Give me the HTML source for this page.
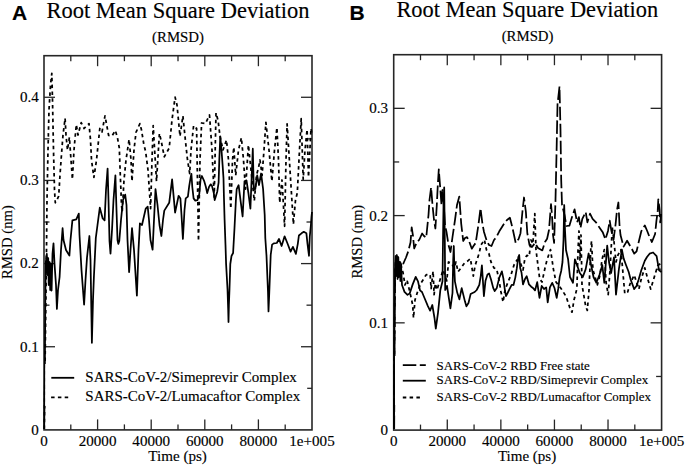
<!DOCTYPE html>
<html><head><meta charset="utf-8"><style>
html,body{margin:0;padding:0;background:#fff;}
svg{display:block;}
text{font-family:"Liberation Serif",serif;fill:#000;stroke:#000;stroke-width:0.15px;}
text.lab{font-family:"Liberation Sans",sans-serif;font-weight:bold;}
</style></head><body>
<svg width="685" height="467" viewBox="0 0 685 467">
<rect x="44.00" y="55.70" width="268.00" height="374.20" fill="none" stroke="#262626" stroke-width="1.6"/>
<line x1="70.80" y1="429.90" x2="70.80" y2="424.40" stroke="#262626" stroke-width="1.3"/>
<line x1="70.80" y1="55.70" x2="70.80" y2="61.20" stroke="#262626" stroke-width="1.3"/>
<line x1="97.60" y1="429.90" x2="97.60" y2="419.40" stroke="#262626" stroke-width="1.3"/>
<line x1="97.60" y1="55.70" x2="97.60" y2="66.20" stroke="#262626" stroke-width="1.3"/>
<line x1="124.40" y1="429.90" x2="124.40" y2="424.40" stroke="#262626" stroke-width="1.3"/>
<line x1="124.40" y1="55.70" x2="124.40" y2="61.20" stroke="#262626" stroke-width="1.3"/>
<line x1="151.20" y1="429.90" x2="151.20" y2="419.40" stroke="#262626" stroke-width="1.3"/>
<line x1="151.20" y1="55.70" x2="151.20" y2="66.20" stroke="#262626" stroke-width="1.3"/>
<line x1="178.00" y1="429.90" x2="178.00" y2="424.40" stroke="#262626" stroke-width="1.3"/>
<line x1="178.00" y1="55.70" x2="178.00" y2="61.20" stroke="#262626" stroke-width="1.3"/>
<line x1="204.80" y1="429.90" x2="204.80" y2="419.40" stroke="#262626" stroke-width="1.3"/>
<line x1="204.80" y1="55.70" x2="204.80" y2="66.20" stroke="#262626" stroke-width="1.3"/>
<line x1="231.60" y1="429.90" x2="231.60" y2="424.40" stroke="#262626" stroke-width="1.3"/>
<line x1="231.60" y1="55.70" x2="231.60" y2="61.20" stroke="#262626" stroke-width="1.3"/>
<line x1="258.40" y1="429.90" x2="258.40" y2="419.40" stroke="#262626" stroke-width="1.3"/>
<line x1="258.40" y1="55.70" x2="258.40" y2="66.20" stroke="#262626" stroke-width="1.3"/>
<line x1="285.20" y1="429.90" x2="285.20" y2="424.40" stroke="#262626" stroke-width="1.3"/>
<line x1="285.20" y1="55.70" x2="285.20" y2="61.20" stroke="#262626" stroke-width="1.3"/>
<line x1="44.00" y1="388.32" x2="49.50" y2="388.32" stroke="#262626" stroke-width="1.3"/>
<line x1="312.00" y1="388.32" x2="306.50" y2="388.32" stroke="#262626" stroke-width="1.3"/>
<line x1="44.00" y1="346.74" x2="55.00" y2="346.74" stroke="#262626" stroke-width="1.3"/>
<line x1="312.00" y1="346.74" x2="301.00" y2="346.74" stroke="#262626" stroke-width="1.3"/>
<line x1="44.00" y1="305.17" x2="49.50" y2="305.17" stroke="#262626" stroke-width="1.3"/>
<line x1="312.00" y1="305.17" x2="306.50" y2="305.17" stroke="#262626" stroke-width="1.3"/>
<line x1="44.00" y1="263.59" x2="55.00" y2="263.59" stroke="#262626" stroke-width="1.3"/>
<line x1="312.00" y1="263.59" x2="301.00" y2="263.59" stroke="#262626" stroke-width="1.3"/>
<line x1="44.00" y1="222.01" x2="49.50" y2="222.01" stroke="#262626" stroke-width="1.3"/>
<line x1="312.00" y1="222.01" x2="306.50" y2="222.01" stroke="#262626" stroke-width="1.3"/>
<line x1="44.00" y1="180.43" x2="55.00" y2="180.43" stroke="#262626" stroke-width="1.3"/>
<line x1="312.00" y1="180.43" x2="301.00" y2="180.43" stroke="#262626" stroke-width="1.3"/>
<line x1="44.00" y1="138.86" x2="49.50" y2="138.86" stroke="#262626" stroke-width="1.3"/>
<line x1="312.00" y1="138.86" x2="306.50" y2="138.86" stroke="#262626" stroke-width="1.3"/>
<line x1="44.00" y1="97.28" x2="55.00" y2="97.28" stroke="#262626" stroke-width="1.3"/>
<line x1="312.00" y1="97.28" x2="301.00" y2="97.28" stroke="#262626" stroke-width="1.3"/>
<text x="44.00" y="445.50" font-size="15.1" text-anchor="middle" >0</text>
<text x="97.60" y="445.50" font-size="15.1" text-anchor="middle" >20000</text>
<text x="151.20" y="445.50" font-size="15.1" text-anchor="middle" >40000</text>
<text x="204.80" y="445.50" font-size="15.1" text-anchor="middle" >60000</text>
<text x="258.40" y="445.50" font-size="15.1" text-anchor="middle" >80000</text>
<text x="312.00" y="445.50" font-size="15.1" text-anchor="middle" >1e+005</text>
<text x="38.90" y="434.80" font-size="15.1" text-anchor="end" >0</text>
<text x="38.90" y="351.64" font-size="15.1" text-anchor="end" >0.1</text>
<text x="38.90" y="268.49" font-size="15.1" text-anchor="end" >0.2</text>
<text x="38.90" y="185.33" font-size="15.1" text-anchor="end" >0.3</text>
<text x="38.90" y="102.18" font-size="15.1" text-anchor="end" >0.4</text>
<rect x="393.70" y="54.70" width="267.90" height="375.40" fill="none" stroke="#262626" stroke-width="1.6"/>
<line x1="420.49" y1="430.10" x2="420.49" y2="424.60" stroke="#262626" stroke-width="1.3"/>
<line x1="420.49" y1="54.70" x2="420.49" y2="60.20" stroke="#262626" stroke-width="1.3"/>
<line x1="447.28" y1="430.10" x2="447.28" y2="419.60" stroke="#262626" stroke-width="1.3"/>
<line x1="447.28" y1="54.70" x2="447.28" y2="65.20" stroke="#262626" stroke-width="1.3"/>
<line x1="474.07" y1="430.10" x2="474.07" y2="424.60" stroke="#262626" stroke-width="1.3"/>
<line x1="474.07" y1="54.70" x2="474.07" y2="60.20" stroke="#262626" stroke-width="1.3"/>
<line x1="500.86" y1="430.10" x2="500.86" y2="419.60" stroke="#262626" stroke-width="1.3"/>
<line x1="500.86" y1="54.70" x2="500.86" y2="65.20" stroke="#262626" stroke-width="1.3"/>
<line x1="527.65" y1="430.10" x2="527.65" y2="424.60" stroke="#262626" stroke-width="1.3"/>
<line x1="527.65" y1="54.70" x2="527.65" y2="60.20" stroke="#262626" stroke-width="1.3"/>
<line x1="554.44" y1="430.10" x2="554.44" y2="419.60" stroke="#262626" stroke-width="1.3"/>
<line x1="554.44" y1="54.70" x2="554.44" y2="65.20" stroke="#262626" stroke-width="1.3"/>
<line x1="581.23" y1="430.10" x2="581.23" y2="424.60" stroke="#262626" stroke-width="1.3"/>
<line x1="581.23" y1="54.70" x2="581.23" y2="60.20" stroke="#262626" stroke-width="1.3"/>
<line x1="608.02" y1="430.10" x2="608.02" y2="419.60" stroke="#262626" stroke-width="1.3"/>
<line x1="608.02" y1="54.70" x2="608.02" y2="65.20" stroke="#262626" stroke-width="1.3"/>
<line x1="634.81" y1="430.10" x2="634.81" y2="424.60" stroke="#262626" stroke-width="1.3"/>
<line x1="634.81" y1="54.70" x2="634.81" y2="60.20" stroke="#262626" stroke-width="1.3"/>
<line x1="393.70" y1="376.47" x2="399.20" y2="376.47" stroke="#262626" stroke-width="1.3"/>
<line x1="661.60" y1="376.47" x2="656.10" y2="376.47" stroke="#262626" stroke-width="1.3"/>
<line x1="393.70" y1="322.84" x2="404.70" y2="322.84" stroke="#262626" stroke-width="1.3"/>
<line x1="661.60" y1="322.84" x2="650.60" y2="322.84" stroke="#262626" stroke-width="1.3"/>
<line x1="393.70" y1="269.21" x2="399.20" y2="269.21" stroke="#262626" stroke-width="1.3"/>
<line x1="661.60" y1="269.21" x2="656.10" y2="269.21" stroke="#262626" stroke-width="1.3"/>
<line x1="393.70" y1="215.59" x2="404.70" y2="215.59" stroke="#262626" stroke-width="1.3"/>
<line x1="661.60" y1="215.59" x2="650.60" y2="215.59" stroke="#262626" stroke-width="1.3"/>
<line x1="393.70" y1="161.96" x2="399.20" y2="161.96" stroke="#262626" stroke-width="1.3"/>
<line x1="661.60" y1="161.96" x2="656.10" y2="161.96" stroke="#262626" stroke-width="1.3"/>
<line x1="393.70" y1="108.33" x2="404.70" y2="108.33" stroke="#262626" stroke-width="1.3"/>
<line x1="661.60" y1="108.33" x2="650.60" y2="108.33" stroke="#262626" stroke-width="1.3"/>
<text x="393.70" y="445.80" font-size="15.1" text-anchor="middle" >0</text>
<text x="447.28" y="445.80" font-size="15.1" text-anchor="middle" >20000</text>
<text x="500.86" y="445.80" font-size="15.1" text-anchor="middle" >40000</text>
<text x="554.44" y="445.80" font-size="15.1" text-anchor="middle" >60000</text>
<text x="608.02" y="445.80" font-size="15.1" text-anchor="middle" >80000</text>
<text x="661.60" y="445.80" font-size="15.1" text-anchor="middle" >1e+005</text>
<text x="388.00" y="435.10" font-size="15.1" text-anchor="end" >0</text>
<text x="388.00" y="327.84" font-size="15.1" text-anchor="end" >0.1</text>
<text x="388.00" y="220.59" font-size="15.1" text-anchor="end" >0.2</text>
<text x="388.00" y="113.33" font-size="15.1" text-anchor="end" >0.3</text>
<text x="177.60" y="460.60" font-size="15.1" text-anchor="middle" >Time (ps)</text>
<text x="527.10" y="460.80" font-size="15" text-anchor="middle" >Time (ps)</text>
<text x="0" y="0" font-size="14.7" text-anchor="middle" transform="translate(12.3,242.1) rotate(-90)">RMSD (nm)</text>
<text x="0" y="0" font-size="14.7" text-anchor="middle" transform="translate(362.3,241.7) rotate(-90)">RMSD (nm)</text>
<text x="46.40" y="18.20" font-size="22.5" text-anchor="start" >Root Mean Square Deviation</text>
<text x="396.40" y="16.80" font-size="22.4" text-anchor="start" >Root Mean Square Deviation</text>
<text x="178.00" y="42.20" font-size="14.8" text-anchor="middle" >(RMSD)</text>
<text x="527.60" y="41.00" font-size="14.8" text-anchor="middle" >(RMSD)</text>
<text x="12.0" y="19.5" font-size="21" class="lab">A</text>
<text x="349.5" y="19.5" font-size="21" class="lab">B</text>
<polyline points="44.3,429.0 45.5,330.0 46.5,250.0 47.0,200.0 48.0,150.0 49.0,110.0 50.5,85.0 51.8,73.3 52.5,100.0 53.5,150.0 54.5,190.0 55.3,202.8 57.0,200.0 58.7,196.0 60.0,175.0 61.6,153.0 63.0,135.0 65.1,118.3 66.0,135.0 67.5,150.0 69.4,137.3 71.0,160.0 72.4,179.3 74.0,150.0 76.3,124.6 78.0,135.0 81.2,122.6 84.1,128.5 89.0,123.6 90.5,140.0 91.5,160.0 93.9,177.4 96.5,160.0 99.8,128.5 102.0,132.0 105.0,115.8 108.6,135.4 112.0,136.0 115.4,130.5 117.5,138.0 119.3,148.0 120.3,175.0 121.5,205.0 122.2,212.0 124.0,180.0 126.0,160.0 129.1,139.3 131.0,160.0 132.0,181.3 134.0,150.0 136.0,132.4 139.9,123.6 141.5,130.0 143.8,144.2 145.7,152.0 148.0,170.0 150.6,208.7 152.0,160.0 153.2,125.6 156.5,181.3 159.4,133.4 161.0,140.0 164.3,156.8 169.2,148.0 172.0,120.0 175.1,97.2 177.0,105.0 180.0,136.3 182.9,115.8 185.8,144.2 187.5,160.0 189.7,173.5 191.0,150.0 193.6,125.6 196.6,128.5 198.5,241.0 200.0,160.0 201.6,123.0 205.4,123.6 209.5,115.0 212.0,150.0 214.2,197.0 216.0,112.9 218.1,120.7 220.0,136.3 223.0,150.0 226.5,140.0 228.5,160.0 230.8,208.7 232.5,160.0 233.8,147.2 235.7,175.4 238.5,150.0 241.4,137.7 243.5,160.0 245.5,189.1 248.4,145.0 251.0,170.0 254.3,200.9 256.5,175.0 258.4,168.4 260.0,160.0 262.1,175.4 264.0,150.0 265.9,122.4 269.0,150.0 271.9,181.3 274.5,150.0 276.9,127.5 278.5,160.0 279.7,202.8 282.0,180.0 284.6,226.3 286.0,160.0 287.1,123.9 290.0,170.0 293.4,224.3 295.5,200.0 297.3,193.0 299.5,150.0 301.2,118.7 303.2,179.3 305.0,150.0 307.1,129.5 308.5,177.0 311.0,128.5 312.0,135.0" fill="none" stroke="#000" stroke-width="1.75" stroke-linejoin="round" stroke-dasharray="3.5 3.3"/>
<polyline points="44.2,429.0 44.8,380.0 45.3,300.0 45.8,262.0 46.8,253.9 47.5,275.0 48.2,258.0 48.7,285.0 49.6,262.0 50.2,290.0 50.6,263.6 51.6,290.6 52.5,253.9 53.5,243.3 54.5,263.6 56.0,285.0 56.9,308.9 58.0,290.0 59.6,277.0 61.0,250.0 62.6,228.2 63.5,240.0 66.0,250.0 69.4,255.6 70.5,240.0 72.4,220.4 76.3,219.4 78.8,213.6 79.5,235.0 81.5,270.0 84.1,304.7 85.5,280.0 87.0,257.6 89.4,236.0 90.5,260.0 91.9,342.8 93.0,300.0 93.9,277.0 95.8,238.0 97.5,225.0 99.8,207.7 102.7,218.5 104.6,220.4 106.0,190.0 107.6,168.6 108.5,200.0 109.5,241.0 110.5,253.6 112.0,230.0 113.5,200.0 115.4,175.4 116.5,210.0 117.5,240.0 118.3,243.9 119.3,241.0 121.0,220.0 123.0,200.0 125.2,194.6 126.5,205.0 127.5,240.0 129.1,272.2 130.5,250.0 132.0,228.2 134.0,250.0 136.9,295.7 138.5,250.0 139.9,223.4 142.0,225.0 145.7,208.7 147.7,206.7 149.0,220.0 150.5,240.0 152.6,249.7 154.0,220.0 155.5,189.1 157.5,205.0 159.5,225.0 161.4,236.0 163.0,220.0 164.3,210.6 169.2,202.8 172.1,179.3 175.1,212.6 178.6,195.8 180.4,198.4 181.5,215.0 182.9,239.0 184.5,210.0 185.7,198.4 187.9,196.6 189.2,186.1 190.5,178.2 191.4,173.8 192.3,187.0 193.6,198.4 195.3,200.6 197.5,200.1 199.3,194.0 200.6,179.1 201.9,176.0 204.1,180.8 205.9,187.0 207.2,193.1 209.0,187.0 210.7,184.3 212.0,186.1 213.8,193.1 214.7,200.1 215.5,197.5 217.3,191.4 218.6,182.6 219.3,160.0 220.3,136.3 221.5,150.0 222.6,165.0 223.5,178.2 223.9,195.8 224.6,220.0 225.5,245.0 226.1,264.0 227.5,289.0 228.2,310.0 228.5,322.0 228.9,305.0 229.5,289.0 230.3,264.0 231.5,256.0 233.1,253.0 234.5,228.0 235.9,200.0 236.7,189.1 236.7,189.1 238.6,185.2 240.6,200.9 242.6,216.5 244.5,181.3 246.5,180.3 248.4,193.0 250.4,208.7 252.8,148.7 253.8,190.0 255.3,189.1 257.2,175.4 259.0,185.0 261.1,173.5 263.1,189.1 264.7,215.0 265.3,238.0 266.5,255.7 268.0,292.0 268.5,311.4 269.3,292.0 270.7,255.0 272.1,244.6 273.8,243.4 276.8,243.0 279.0,238.9 281.6,246.0 284.6,236.3 287.6,243.8 290.6,251.6 292.9,246.8 295.9,253.9 297.8,243.8 298.9,235.5 301.5,233.3 303.8,231.8 306.4,233.3 307.5,243.8 309.0,255.8 309.8,236.3 310.9,225.0 311.5,216.5 312.0,212.0" fill="none" stroke="#000" stroke-width="1.75" stroke-linejoin="round"/>
<polyline points="394.0,429.0 394.4,350.0 394.8,290.0 395.5,262.0 397.2,260.5 399.0,270.0 401.0,265.0 403.0,272.4 405.0,285.0 407.0,280.0 410.5,294.9 412.7,305.0 413.5,318.0 415.0,300.0 418.0,290.4 421.0,283.0 424.0,278.4 426.0,275.0 428.4,273.9 430.2,275.0 431.1,288.7 433.1,271.1 434.1,294.6 435.3,283.4 437.0,290.0 440.0,280.0 443.0,270.0 446.8,280.9 448.5,262.0 451.7,263.3 454.0,268.0 456.0,262.0 458.0,271.7 461.0,268.0 464.5,263.0 467.3,261.3 470.4,258.6 473.3,276.1 475.2,265.2 479.1,253.5 481.0,245.0 484.4,239.8 486.5,250.0 488.9,253.5 491.0,262.0 494.0,268.0 496.7,269.1 499.0,280.0 501.0,292.0 503.1,302.1 505.0,290.0 508.0,282.0 511.0,275.0 514.0,265.0 517.0,260.0 520.0,262.0 523.0,270.0 525.0,258.0 527.0,255.4 529.2,256.4 531.0,240.0 532.9,243.7 534.8,213.6 536.0,250.0 539.7,278.9 542.0,282.0 545.0,268.0 547.0,260.0 550.5,249.6 553.4,269.1 556.0,282.0 561.2,288.7 566.1,296.5 570.7,310.4 572.0,312.2 574.0,300.0 576.9,288.7 578.0,250.0 579.0,231.0 580.0,260.0 581.0,235.0 582.0,285.0 585.7,306.3 587.3,310.4 589.0,290.0 590.9,246.3 591.6,241.0 592.5,262.0 593.0,270.0 597.4,284.8 600.0,275.0 602.0,260.0 604.3,249.6 606.0,282.0 608.2,294.6 610.0,270.0 612.3,227.3 614.0,241.7 616.0,262.0 618.0,255.0 620.9,249.6 624.8,293.8 627.7,292.0 630.0,284.0 634.2,275.0 636.5,282.0 638.9,289.1 641.5,278.0 644.8,267.9 647.2,277.0 650.7,289.1 654.3,277.0 657.8,265.5 661.5,263.0" fill="none" stroke="#000" stroke-width="1.75" stroke-linejoin="round" stroke-dasharray="3.5 3.3"/>
<polyline points="394.2,429.0 394.6,330.0 395.0,280.0 396.0,262.0 398.0,268.0 400.0,262.0 402.2,266.4 404.0,262.0 406.0,257.5 408.2,251.5 410.5,242.5 411.7,227.3 413.0,236.0 414.2,248.5 416.5,243.0 419.4,239.5 422.1,233.5 424.0,236.0 426.2,237.7 428.5,215.0 429.5,200.0 431.1,187.4 432.5,205.0 434.0,220.0 435.4,228.5 436.8,205.0 437.8,185.0 438.8,169.4 440.0,185.0 441.5,205.0 442.5,190.0 443.5,200.0 445.0,225.0 446.5,232.0 448.5,245.0 450.5,252.0 452.5,237.0 455.0,220.0 457.0,205.0 459.3,196.6 461.2,223.6 463.2,241.0 465.0,238.0 467.0,237.1 469.0,241.0 471.8,248.7 473.5,246.0 475.7,242.9 478.6,223.6 480.5,208.2 482.4,223.6 484.0,232.0 486.5,240.0 489.0,245.0 491.5,246.0 494.0,240.0 496.4,237.1 499.3,231.3 502.0,227.0 504.1,223.6 507.0,220.0 509.9,217.8 511.5,224.0 512.8,229.4 515.7,242.9 518.6,239.0 520.5,233.2 522.4,212.0 524.0,197.5 525.9,212.0 527.3,233.2 529.5,245.0 532.0,247.0 535.0,243.0 538.0,248.0 542.3,250.4 545.0,242.0 547.1,238.8 549.0,230.0 551.0,204.2 552.0,215.0 553.0,235.0 554.1,243.0 555.5,200.0 556.6,150.0 557.5,104.7 559.5,86.4 560.5,130.0 561.2,180.0 562.0,204.8 564.5,215.0 566.5,226.0 569.4,225.7 572.0,217.1 574.6,209.4 577.1,222.3 578.9,217.1 580.5,228.0 582.3,218.9 585.7,212.0 587.4,222.3 590.0,213.7 592.6,218.9 596.0,222.3 599.4,227.4 602.9,232.6 605.4,239.4 608.0,230.9 609.7,220.6 611.4,230.9 613.5,240.0 615.5,225.0 617.0,210.0 618.4,202.5 619.5,225.0 620.5,235.0 623.6,246.6 627.1,240.7 629.0,244.0 631.9,249.0 634.2,253.7 636.6,251.3 639.0,240.7 641.3,231.3 644.8,225.4 647.2,231.0 649.6,237.2 651.9,242.0 654.3,236.0 655.1,234.0 656.4,221.2 657.7,210.9 658.3,199.3 659.6,209.6 660.2,222.4 661.2,214.0" fill="none" stroke="#000" stroke-width="1.75" stroke-linejoin="round" stroke-dasharray="13.5 3.5"/>
<polyline points="393.9,429.0 394.2,380.0 394.5,320.0 395.0,270.0 395.6,256.0 396.3,276.0 396.9,255.0 397.6,279.0 398.3,257.0 399.0,277.0 399.7,262.0 400.4,281.0 401.1,266.0 402.0,285.0 404.5,291.9 407.5,294.9 409.7,293.4 412.7,284.4 415.7,276.9 418.0,281.4 420.0,290.3 422.0,292.0 424.5,298.0 427.9,306.1 430.1,310.6 432.3,305.0 434.5,318.0 435.8,328.6 438.0,312.8 440.3,290.3 442.5,281.3 443.0,240.0 443.6,200.0 444.2,187.4 444.8,240.0 445.2,290.0 447.0,285.8 450.4,308.3 452.5,293.0 453.2,260.0 453.8,246.0 454.4,270.0 454.9,281.3 457.2,292.6 459.4,299.3 461.7,288.1 465.0,301.6 466.4,306.3 466.4,306.3 468.5,303.0 470.6,294.1 472.6,293.0 474.7,292.0 476.7,290.0 479.3,284.8 480.8,275.6 481.9,265.3 482.9,280.7 483.9,296.1 485.5,280.7 487.5,274.5 489.1,273.5 491.1,279.7 493.2,287.9 494.7,291.0 496.8,287.9 499.3,277.6 501.9,271.4 503.4,278.6 505.0,291.0 506.0,296.1 507.6,293.0 509.6,288.9 511.7,284.8 513.5,285.0 515.3,277.6 516.8,268.4 518.3,257.0 519.2,255.0 520.2,268.0 521.5,272.5 523.0,284.4 525.0,279.0 526.7,276.2 529.0,284.4 531.2,286.7 533.0,288.0 535.0,290.4 537.2,282.2 539.5,297.9 541.7,285.9 544.0,289.0 546.2,287.4 547.7,302.4 549.9,287.4 552.2,282.9 554.5,288.0 556.7,297.9 558.2,288.9 559.7,276.9 561.2,271.0 562.5,262.0 563.5,240.0 564.2,205.0 565.0,230.0 566.0,250.0 568.1,259.3 570.0,277.0 573.0,282.8 574.9,259.3 577.0,265.0 579.8,273.0 582.8,277.0 585.7,269.1 588.6,253.5 590.5,262.0 593.5,277.0 596.4,282.8 599.4,275.0 602.3,265.2 604.3,282.8 607.2,245.6 609.0,262.0 611.1,273.0 614.0,257.4 616.0,294.6 618.9,269.1 621.9,249.6 623.6,258.4 626.0,265.0 628.7,272.0 630.7,279.7 634.2,289.1 636.5,286.0 638.5,280.0 641.3,270.2 644.8,260.8 647.0,257.0 649.6,253.7 653.1,252.5 656.6,256.1 659.0,270.2 661.5,272.0" fill="none" stroke="#000" stroke-width="1.75" stroke-linejoin="round"/>
<rect x="45.2" y="364" width="262" height="42" fill="#fff"/>
<line x1="51.30" y1="377.80" x2="74.20" y2="377.80" stroke="#000" stroke-width="1.8"/>
<line x1="51.1" y1="397.3" x2="69.5" y2="397.3" stroke="#000" stroke-width="1.8" stroke-dasharray="3.5 3.3"/>
<text x="85.30" y="381.60" font-size="15" text-anchor="start" >SARS-CoV-2/Simeprevir Complex</text>
<text x="85.30" y="400.80" font-size="15" text-anchor="start" >SARS-CoV-2/Lumacaftor Complex</text>
<rect x="395" y="356" width="259.5" height="49" fill="#fff"/>
<line x1="402.8" y1="365.2" x2="425.8" y2="365.2" stroke="#000" stroke-width="1.8" stroke-dasharray="13.5 3.5"/>
<line x1="402.80" y1="380.70" x2="425.80" y2="380.70" stroke="#000" stroke-width="1.8"/>
<line x1="402.8" y1="397.5" x2="421" y2="397.5" stroke="#000" stroke-width="1.8" stroke-dasharray="3.5 3.3"/>
<text x="436.60" y="369.80" font-size="12.9" text-anchor="start" >SARS-CoV-2 RBD Free state</text>
<text x="436.60" y="383.70" font-size="12.9" text-anchor="start" >SARS-CoV-2 RBD/Simeprevir Complex</text>
<text x="436.60" y="401.30" font-size="12.9" text-anchor="start" >SARS-CoV-2 RBD/Lumacaftor Complex</text>
</svg>
</body></html>
